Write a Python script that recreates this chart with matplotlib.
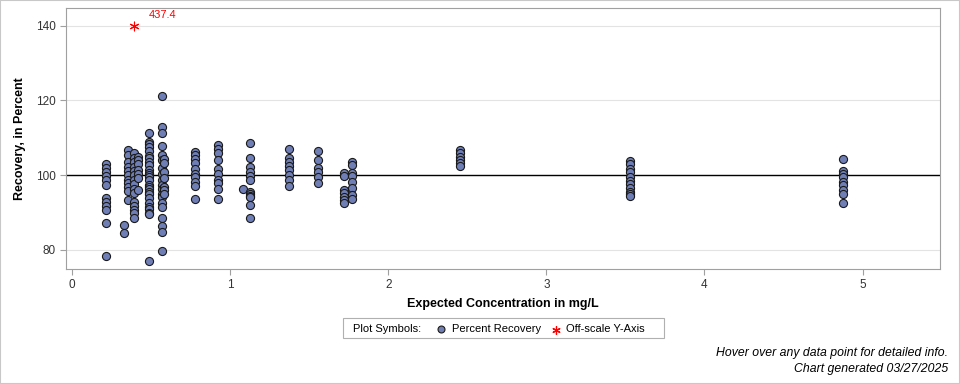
import matplotlib.pyplot as plt

plt.rcParams['font.family'] = ['Liberation Sans', 'DejaVu Sans']

# expected concentration (mg/L) and percent recovery, one list per sample level
conc = [0.217, 0.33, 0.354, 0.39, 0.42, 0.485, 0.571, 0.585, 0.78, 0.925,
        1.08, 1.127, 1.374, 1.557, 1.72, 1.772, 2.455, 3.527, 4.876]
recovery = [
    [102.9, 102.0, 100.9, 99.8, 98.7, 97.3, 93.8, 92.7, 91.6, 90.6, 87.2, 78.3],
    [86.6, 84.5],
    [106.7, 105.4, 103.6, 102.2, 101.1, 100.0, 98.8, 97.8, 96.7, 95.7, 93.3],
    [105.8, 104.6, 103.6, 102.2, 101.1, 100.0, 98.7, 97.5, 96.3, 95.1, 92.9,
     91.8, 90.6, 89.7, 88.4],
    [104.9, 104.0, 102.9, 101.3, 100.2, 99.1, 96.0],
    [111.4, 108.9, 108.3, 107.6, 106.4, 105.1, 104.5, 103.6, 102.7, 101.3,
     100.5, 100.0, 99.5, 98.8, 97.3, 96.8, 96.2, 95.5, 94.9, 93.8, 92.4, 91.5,
     90.8, 89.9, 89.5, 77.0],
    [121.3, 112.9, 111.2, 107.8, 105.5, 104.0, 101.8, 100.4, 98.7, 97.3, 96.2,
     94.9, 94.2, 92.4, 91.3, 88.4, 86.3, 84.7, 79.6],
    [104.2, 103.1, 100.9, 99.1, 96.9, 96.0, 94.9],
    [106.2, 105.4, 104.2, 103.1, 101.5, 100.4, 99.4, 98.2, 97.1, 93.5],
    [108.0, 107.1, 106.0, 104.0, 101.5, 100.3, 98.8, 97.8, 96.2, 93.5],
    [96.2],
    [108.5, 104.5, 102.1, 100.9, 99.7, 98.7, 95.5, 95.0, 94.5, 94.2, 91.9, 88.4],
    [106.9, 104.7, 103.6, 102.4, 101.3, 100.0, 98.7, 97.1],
    [106.4, 104.0, 102.0, 100.9, 99.4, 97.9],
    [100.6, 99.7, 96.0, 95.1, 94.2, 93.3, 92.6],
    [103.6, 102.7, 100.6, 99.7, 98.2, 96.4, 94.6, 93.5],
    [106.7, 105.8, 104.9, 104.0, 103.1, 102.4],
    [103.8, 102.9, 101.5, 100.7, 99.4, 98.5, 97.6, 96.4, 95.5, 94.9, 94.4],
    [104.3, 101.2, 100.4, 99.4, 98.2, 97.3, 96.0, 94.9, 92.6],
]

# off-scale value, drawn at the top of the axis
off_x = [0.39]
off_val = [437.4]
off_plot_y = 140

fig = plt.figure(figsize=(9.6, 3.84), dpi=100)
ax = fig.add_axes([66 / 960, 1 - 269 / 384, 874 / 960, 261 / 384])

xs, ys = [], []
for c, vals in zip(conc, recovery):
    xs += [c] * len(vals)
    ys += vals

ax.axhline(100, color='black', lw=1, zorder=2)
ax.scatter(xs, ys, s=34, c='#6f7fb5', edgecolors='#1a1a1a', linewidths=0.8, zorder=3)
ax.scatter(off_x, [off_plot_y] * len(off_x), marker=(6, 2, 0), s=40, c='red',
           linewidths=0.8, zorder=3)
for x, v in zip(off_x, off_val):
    ax.annotate(f'{v}', (x, off_plot_y), xytext=(11, 6), textcoords='offset points',
                color='red', fontsize=8)

ax.set_xlim(-0.038, 5.49)
ax.set_ylim(74.8, 144.8)
ax.set_xticks([0, 1, 2, 3, 4, 5])
ax.set_yticks([80, 100, 120, 140])
ax.grid(axis='y', color='#e3e3e3', lw=0.8, zorder=0)
ax.set_axisbelow(True)
for sp in ax.spines.values():
    sp.set_color('#a0a0a0')
ax.tick_params(colors='#333333', labelsize=8.5, length=4, color='#a0a0a0')
ax.set_xlabel('Expected Concentration in mg/L', fontsize=9, fontweight='bold', labelpad=5)
ax.set_ylabel('Recovery, in Percent', fontsize=9, fontweight='bold', labelpad=7)

# legend box
lg = plt.Rectangle((343 / 960, 1 - 338 / 384), 321 / 960, 20 / 384, transform=fig.transFigure,
                   fill=False, edgecolor='#b0b0b0', lw=0.8)
fig.patches.append(lg)
ly = 1 - 328.5 / 384
fig.text(353 / 960, ly, 'Plot Symbols:', fontsize=8, va='center')
fig.lines.append(plt.Line2D([441 / 960], [ly], transform=fig.transFigure, marker='o', ms=5,
                            mfc='#6f7fb5', mec='#1a1a1a', mew=0.8, ls='none'))
fig.text(452 / 960, ly, 'Percent Recovery', fontsize=8, va='center')
fig.lines.append(plt.Line2D([556 / 960], [ly - 0.004], transform=fig.transFigure,
                            marker=(6, 2, 0), ms=6, mec='red', mew=0.9, ls='none'))
fig.text(566 / 960, ly, 'Off-scale Y-Axis', fontsize=8, va='center')

fig.text(948 / 960, 1 - 353 / 384, 'Hover over any data point for detailed info.',
         fontsize=8.8, style='italic', ha='right', va='center')
fig.text(948 / 960, 1 - 369 / 384, 'Chart generated 03/27/2025',
         fontsize=8.8, style='italic', ha='right', va='center')

fig.patches.append(plt.Rectangle((0, 0), 1, 1, transform=fig.transFigure, fill=False,
                                 edgecolor='#c8c8c8', lw=1.5))

fig.savefig('out.png', dpi=100)
